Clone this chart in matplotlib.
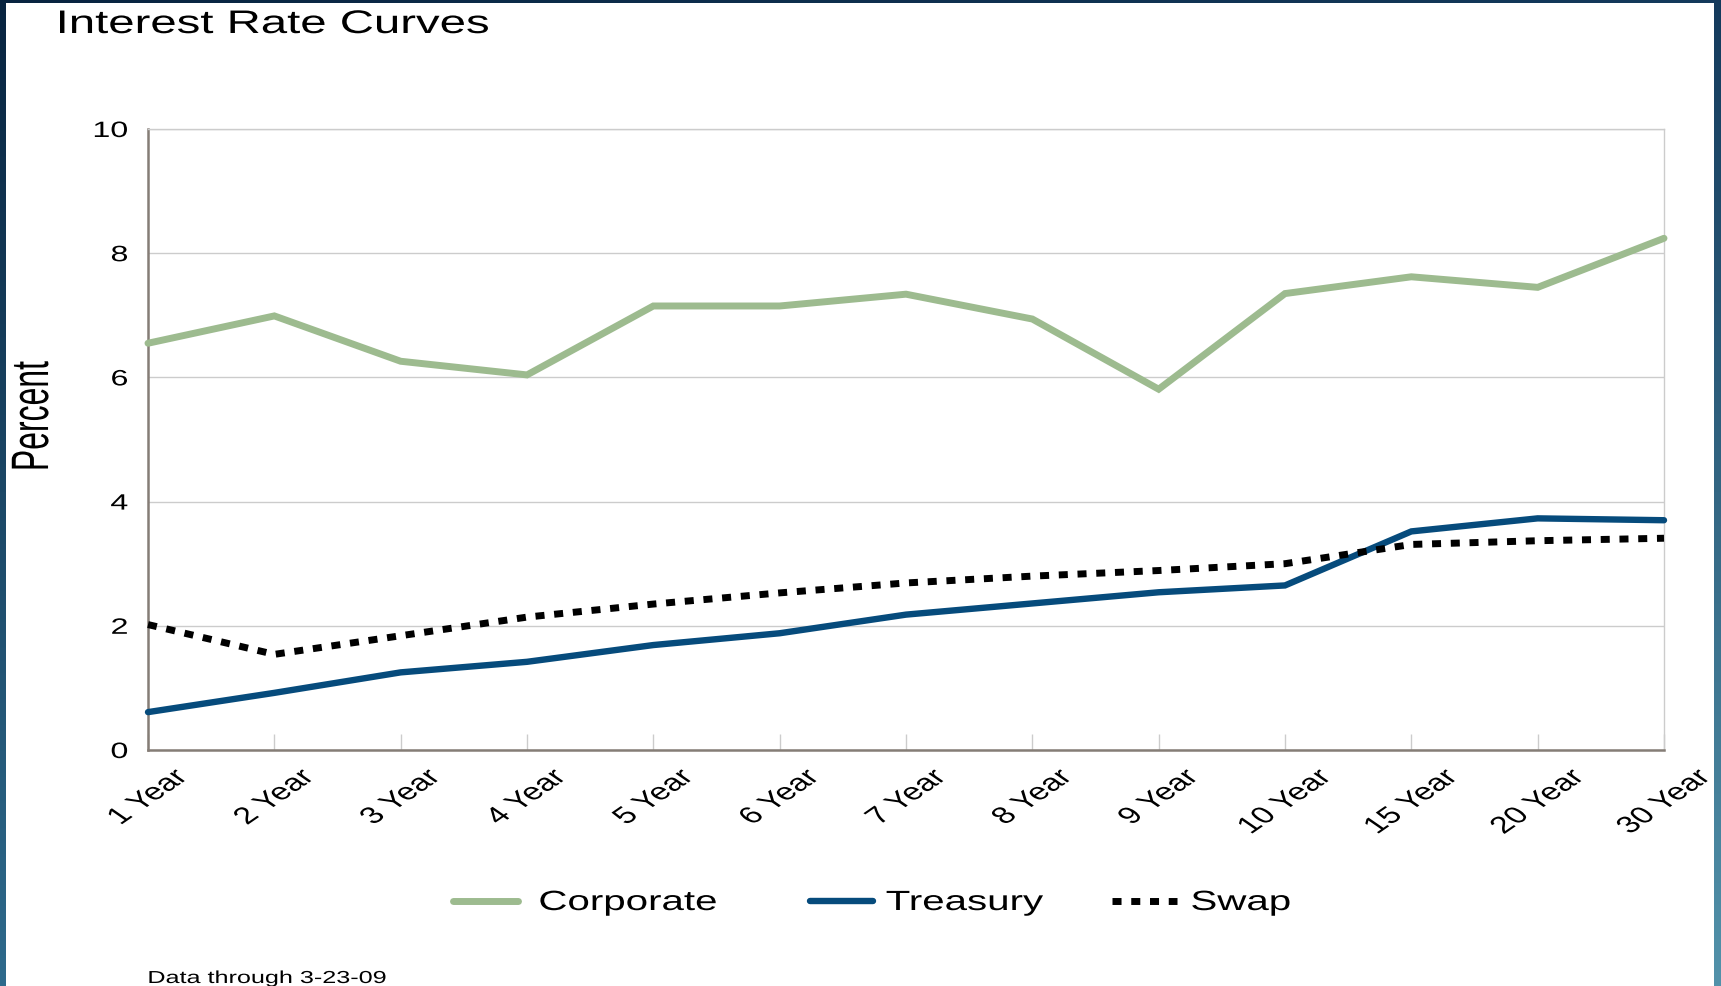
import numpy as np
import matplotlib
matplotlib.use("Agg")
import matplotlib.pyplot as plt
from matplotlib.lines import Line2D
from matplotlib.patches import Rectangle
from matplotlib.patheffects import AbstractPathEffect
from matplotlib.transforms import Affine2D

# ---- data -------------------------------------------------------------
categories = ["1 Year", "2 Year", "3 Year", "4 Year", "5 Year", "6 Year",
              "7 Year", "8 Year", "9 Year", "10 Year", "15 Year", "20 Year",
              "30 Year"]
corporate = [6.55, 6.99, 6.26, 6.04, 7.15, 7.15, 7.34, 6.94, 5.81, 7.35,
             7.62, 7.45, 8.24]
treasury = [0.61, 0.92, 1.25, 1.42, 1.69, 1.88, 2.18, 2.36, 2.54, 2.65,
            3.52, 3.73, 3.70]
swap = [2.02, 1.54, 1.84, 2.14, 2.35, 2.53, 2.69, 2.80, 2.89, 3.00,
        3.31, 3.37, 3.41]
y_ticks = [0, 2, 4, 6, 8, 10]
series_names = ["Corporate", "Treasury", "Swap"]

title = "Interest Rate Curves"
y_label = "Percent"
footnote = "Data through 3-23-09"

# ---- style ------------------------------------------------------------
W, H, DPI = 1721, 987, 100
GREEN = "#9dbb8f"
NAVY = "#064b7c"
GRID = "#cccccc"
AXIS = "#857d76"
WIDE = 1.45

LW_CORP = 5.0
LW_TREAS = 4.6
LW_SWAP = 5.0
SWAP_DASH = (0, (1.3, 1.4))

plt.rcParams["font.family"] = ["Liberation Sans", "DejaVu Sans"]


class Widen(AbstractPathEffect):
    """Render glyphs stretched horizontally on screen about one edge."""

    def __init__(self, factor=WIDE, about="left"):
        super().__init__()
        self.factor = factor
        self.about = about

    def draw_path(self, renderer, gc, tpath, affine, rgbFace=None):
        ext = tpath.get_extents(affine)
        if self.about == "left":
            x0 = ext.x0
        elif self.about == "right":
            x0 = ext.x1
        else:
            x0 = 0.5 * (ext.x0 + ext.x1)
        t = (Affine2D(affine.get_matrix().copy())
             .translate(-x0, 0).scale(self.factor, 1).translate(x0, 0))
        renderer.draw_path(gc, tpath, t, rgbFace)


fig = plt.figure(figsize=(W / DPI, H / DPI), dpi=DPI)

# slide frame: blue gradient border with a white panel
bg = fig.add_axes([0, 0, 1, 1], zorder=-10)
ys = np.linspace(0, 1, 200)[:, None, None]
xs = np.linspace(0, 1, 60)[None, :, None]
top_l = np.array([8, 36, 64]) / 255
top_r = np.array([20, 58, 92]) / 255
bot_l = np.array([46, 106, 140]) / 255
bot_r = np.array([82, 146, 170]) / 255
top = top_l + (top_r - top_l) * xs
bot = bot_l + (bot_r - bot_l) * xs
grad = top + (bot - top) * ys
bg.imshow(grad, extent=[0, 1, 0, 1], aspect="auto", origin="upper",
          interpolation="bilinear")
bg.add_patch(Rectangle((6 / W, 0), (1714 - 6) / W, 1 - 4 / H,
                       facecolor="white", edgecolor="none"))
bg.set_xlim(0, 1)
bg.set_ylim(0, 1)
bg.axis("off")

# ---- main chart -------------------------------------------------------
ax = fig.add_axes([148 / W, 1 - 751 / H, 1516 / W, 621 / H])
ax.set_facecolor("white")
x = np.arange(len(categories))

ax.plot(x, corporate, color=GREEN, lw=LW_CORP, solid_capstyle="round",
        solid_joinstyle="miter", clip_on=False, zorder=3)
ax.plot(x, treasury, color=NAVY, lw=LW_TREAS, solid_capstyle="round",
        solid_joinstyle="miter", clip_on=False, zorder=3)
ax.plot(x, swap, color="black", lw=LW_SWAP, linestyle=SWAP_DASH,
        dash_capstyle="butt", clip_on=False, zorder=3)

ax.set_xlim(0, len(categories) - 1)
ax.set_ylim(0, 10)
ax.set_yticks(y_ticks, labels=[str(v) for v in y_ticks])
ax.set_xticks(x, labels=categories)
ax.tick_params(axis="y", length=0, pad=14.4, labelsize=16)
ax.tick_params(axis="x", direction="in", length=11.5, width=1.0,
               color=GRID, pad=11.5, labelsize=17, labelrotation=45)
for lab in ax.get_xticklabels():
    lab.set_ha("center")
    lab.set_path_effects([Widen(WIDE, "center")])
for lab in ax.get_yticklabels():
    lab.set_path_effects([Widen(WIDE, "right")])

ax.yaxis.grid(True, color=GRID, lw=1.0)
ax.set_axisbelow(True)
for side in ("top", "right"):
    ax.spines[side].set_color(GRID)
    ax.spines[side].set_linewidth(1.0)
for side in ("left", "bottom"):
    ax.spines[side].set_color(AXIS)
    ax.spines[side].set_linewidth(1.8)

ax.set_ylabel(y_label, fontsize=23, va="center",
              path_effects=[Widen(1.65, "center")])
ax.yaxis.set_label_coords((33 - 148) / 1516, (751 - 417) / 621)

# ---- titles and notes ---------------------------------------------------
fig.text(57 / W, 1 - 34 / H, title, fontsize=23.5, ha="left",
         va="baseline", path_effects=[Widen(WIDE, "left")])
fig.text(148 / W, 1 - 984 / H, footnote, fontsize=12.5, ha="left",
         va="baseline", path_effects=[Widen(WIDE, "left")])

# ---- legend -------------------------------------------------------------
legend_items = [
    (series_names[0], dict(color=GREEN, lw=LW_CORP, solid_capstyle="round"),
     (453, 518), 539),
    (series_names[1], dict(color=NAVY, lw=LW_TREAS, solid_capstyle="round"),
     (810, 873), 886),
    (series_names[2], dict(color="black", lw=LW_SWAP, linestyle=SWAP_DASH,
                           dash_capstyle="butt"), (1112, 1177), 1191),
]
for name, style, (hx0, hx1), tx in legend_items:
    fig.add_artist(Line2D([hx0 / W, hx1 / W], [1 - 902 / H, 1 - 902 / H],
                          transform=fig.transFigure, **style))
    fig.text(tx / W, 1 - 911 / H, name, fontsize=20, ha="left",
             va="baseline", path_effects=[Widen(WIDE, "left")])

fig.savefig("out.png", dpi=DPI)
